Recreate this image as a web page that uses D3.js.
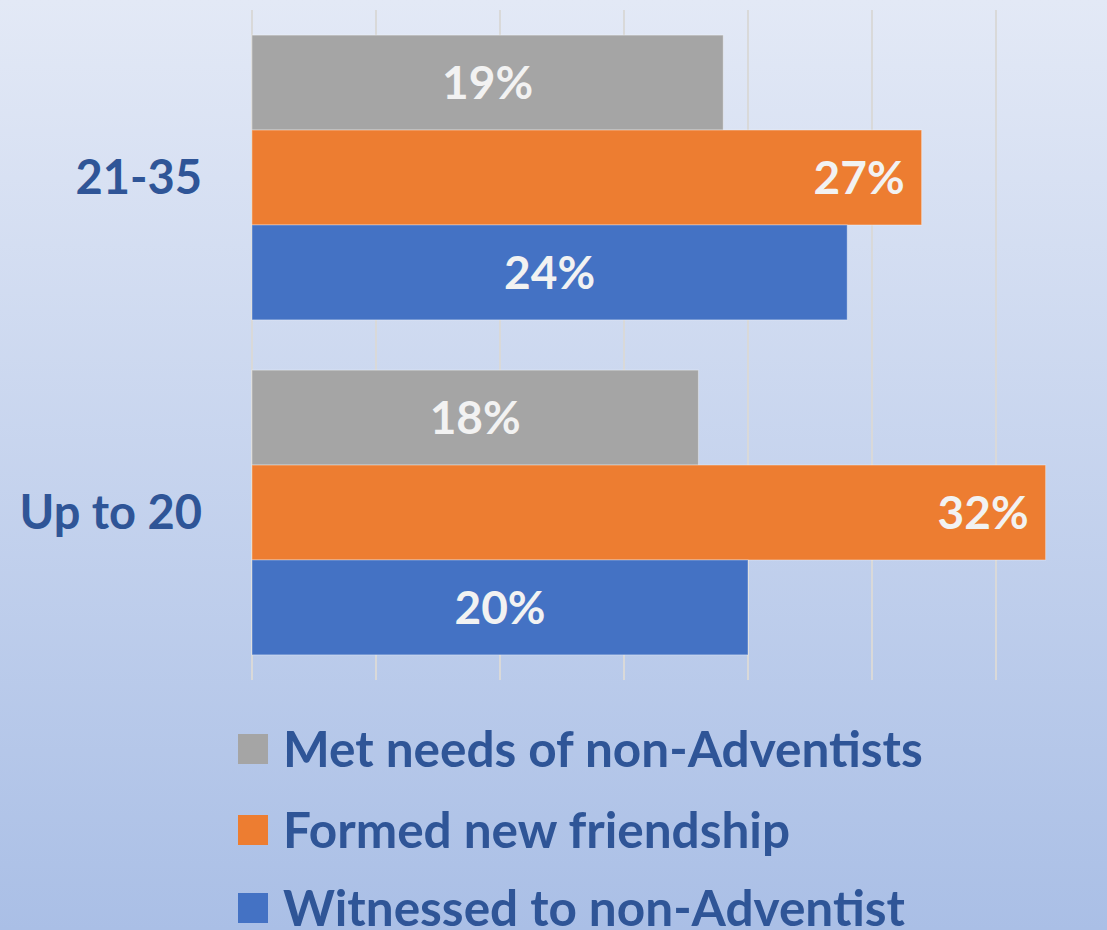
<!DOCTYPE html>
<html><head><meta charset="utf-8">
<script src="https://cdn.jsdelivr.net/npm/d3@7"></script>
<style>html,body{margin:0;padding:0;overflow:hidden;}</style>
</head><body>
<svg id="chart" width="1107" height="930"></svg>
<script>
const categories = ["21-35", "Up to 20"];
const seriesNames = ["Met needs of non-Adventists", "Formed new friendship", "Witnessed to non-Adventist"];
const seriesColors = ["#a5a5a5", "#ed7d31", "#4472c4"];
const metNeeds = [19, 18];
const formedFriendship = [27, 32];
const witnessed = [24, 20];
const xTicks = [0, 5, 10, 15, 20, 25, 30];
const seriesValues = [metNeeds, formedFriendship, witnessed];

const svg = d3.select("#chart");
const W = 1107, H = 930;
const defs = svg.append("defs");
const grad = defs.append("linearGradient").attr("id","bg").attr("x1",0).attr("y1",0).attr("x2",0).attr("y2",1);
grad.append("stop").attr("offset","0%").attr("stop-color","#e3e9f6");
grad.append("stop").attr("offset","100%").attr("stop-color","#aabfe6");
svg.append("rect").attr("width",W).attr("height",H).attr("fill","url(#bg)");

const font = "Lato, 'Open Sans', sans-serif";
const x = d3.scaleLinear().domain([0, 30]).range([252, 996]);
const y0 = d3.scaleBand().domain(categories).range([10, 680]).paddingInner(0.15).paddingOuter(0.075);
const y1 = d3.scaleBand().domain(d3.range(3)).range([0, y0.bandwidth()]);

// gridlines
svg.append("g").selectAll("line").data(xTicks).join("line")
  .attr("x1", d => x(d)).attr("x2", d => x(d))
  .attr("y1", 10).attr("y2", 680)
  .attr("stroke", "#d9d9d9").attr("stroke-width", 2);

// bars
const g = svg.append("g");
categories.forEach((c, ci) => {
  seriesValues.forEach((vals, si) => {
    const v = vals[ci];
    const yy = y0(c) + y1(si);
    g.append("rect")
      .attr("x", x(0)).attr("y", yy)
      .attr("width", x(v) - x(0)).attr("height", y1.bandwidth())
      .attr("fill", seriesColors[si])
      .attr("stroke", "rgba(255,255,255,0.35)").attr("stroke-width", 1);
    const isInsideEnd = si === 1;
    g.append("text")
      .attr("x", isInsideEnd ? x(v) - 17 : (x(0) + x(v)) / 2)
      .attr("y", yy + y1.bandwidth() / 2)
      .attr("dy", "0.36em")
      .attr("text-anchor", isInsideEnd ? "end" : "middle")
      .attr("fill", "#f2f2f2")
      .attr("font-family", font).attr("font-weight", "bold")
      .attr("font-size", 46)
      .text(v + "%");
  });
  svg.append("text")
    .attr("x", 202).attr("y", y0(c) + y0.bandwidth() / 2)
    .attr("dy", "0.36em").attr("text-anchor", "end")
    .attr("fill", "#2f5597").attr("font-family", font).attr("font-weight", "bold")
    .attr("font-size", 47)
    .text(c);
});

// legend
const legendY = [749, 830, 908];
seriesNames.forEach((name, i) => {
  svg.append("rect").attr("x", 238).attr("y", legendY[i] - 15).attr("width", 30).attr("height", 30)
    .attr("fill", seriesColors[i]);
  svg.append("text").attr("x", 283).attr("y", legendY[i]).attr("dy", "0.36em")
    .attr("fill", "#2f5597").attr("font-family", font).attr("font-weight", "bold")
    .attr("font-size", 49.5)
    .text(name);
});
</script>
</body></html>
